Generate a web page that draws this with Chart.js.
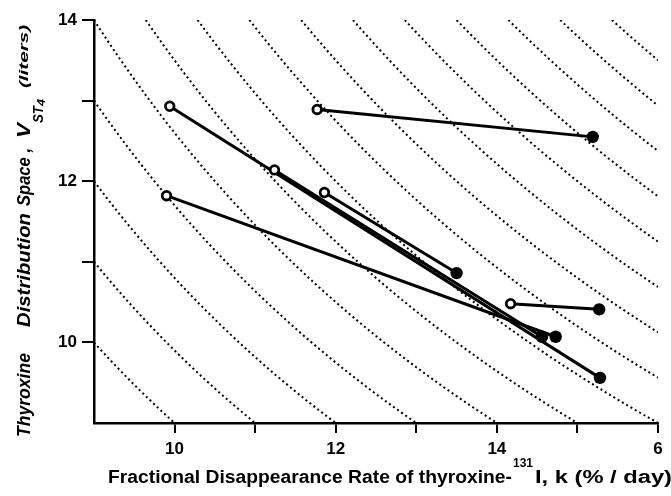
<!DOCTYPE html>
<html>
<head>
<meta charset="utf-8">
<script src="https://cdn.jsdelivr.net/npm/chart.js@4.4.1/dist/chart.umd.min.js"></script>
<style>
    body { margin: 0; background: #fff; }
    #wrap { width: 671px; height: 496px; position: relative; }
</style>
</head>
<body>
<div id="wrap"><canvas id="thyroxineChart"></canvas></div>
<script>
// Points ouverts (k, V) et points pleins correspondants, un couple par sujet
const openK   = [9.94, 11.24, 11.86, 9.90, 11.77, 14.17];
const openV   = [12.93, 12.14, 11.86, 11.82, 12.89, 10.48];
const closedK = [15.28, 14.56, 13.50, 14.73, 15.19, 15.27];
const closedV = [9.56, 10.07, 10.86, 10.07, 12.55, 10.41];

// Courbes pointillées : k * V = constante
const isoConstants = [90, 99, 108, 117, 126, 135, 144, 153, 162, 171, 180, 189, 198, 207, 216];

// Graduations
const xTickValues = [10, 11, 12, 13, 14, 15, 16];
const xTickLabels = ['10', '', '12', '', '14', '', '6'];
const yTickValues = [10, 11, 12, 13, 14];
const yTickLabels = ['10', '', '12', '', '14'];

const X_MIN = 9, X_MAX = 16, Y_MIN = 9, Y_MAX = 14;
const TICK_FONT = { family: 'Liberation Sans', size: 17, weight: 'bold' };

function isoCurve(c) {
    const from = Math.max(X_MIN, c / Y_MAX);
    const to = Math.min(X_MAX, c / Y_MIN);
    const pts = [];
    const n = 60;
    for (let i = 0; i <= n; i++) {
        const k = from + (to - from) * i / n;
        pts.push({ x: k, y: c / k });
    }
    return pts;
}

const datasets = [];

isoConstants.forEach(c => {
    datasets.push({
        data: isoCurve(c),
        borderColor: '#000',
        borderWidth: 2,
        borderDash: [2, 3],
        borderCapStyle: 'butt',
        pointRadius: 0,
        tension: 0,
        order: 3
    });
});

openK.forEach((k, i) => {
    datasets.push({
        data: [{ x: k, y: openV[i] }, { x: closedK[i], y: closedV[i] }],
        borderColor: '#000',
        borderWidth: 3,
        pointRadius: 0,
        order: 2
    });
});

datasets.push({
    data: openK.map((k, i) => ({ x: k, y: openV[i] })),
    showLine: false,
    pointRadius: 4.3,
    pointBorderWidth: 2.8,
    pointBorderColor: '#000',
    pointBackgroundColor: '#fff',
    order: 1
});

datasets.push({
    data: closedK.map((k, i) => ({ x: k, y: closedV[i] })),
    showLine: false,
    pointRadius: 6.2,
    pointBorderWidth: 0,
    pointBackgroundColor: '#000',
    order: 1
});

// Texte ajusté à une longueur donnée (horizontal ou tourné de 90°)
function fitText(ctx, txt, font, x, y, len, rotated) {
    ctx.save();
    ctx.font = font;
    ctx.fillStyle = '#000';
    ctx.textAlign = 'left';
    ctx.textBaseline = 'alphabetic';
    ctx.translate(x, y);
    if (rotated) ctx.rotate(-Math.PI / 2);
    const w = ctx.measureText(txt).width;
    ctx.scale(len / w, 1);
    ctx.fillText(txt, 0, 0);
    ctx.restore();
}

const titlesPlugin = {
    id: 'titles',
    afterDraw(chart) {
        const ctx = chart.ctx;
        const main = 'italic bold 18px "Liberation Sans"';
        // Titre de l'axe Y (lu de bas en haut)
        fitText(ctx, 'Thyroxine', main, 30, 437, 84, true);
        fitText(ctx, 'Distribution', main, 30, 327, 114, true);
        fitText(ctx, 'Space ,', main, 30, 206, 58, true);
        fitText(ctx, 'V', main, 30, 138, 15, true);
        fitText(ctx, 'ST', 'italic bold 14px "Liberation Sans"', 43, 123, 17, true);
        fitText(ctx, '4', 'italic bold 11px "Liberation Sans"', 45, 106, 7, true);
        fitText(ctx, '(liters)', 'italic bold 13px "Liberation Sans"', 28, 88, 63, true);

        // Titre de l'axe X
        const xf = 'bold 18px "Liberation Sans"';
        fitText(ctx, 'Fractional Disappearance Rate of thyroxine-', xf, 108, 483, 404, false);
        fitText(ctx, '131', 'bold 13px "Liberation Sans"', 513, 467, 20, false);
        fitText(ctx, 'I, k (% / day)', xf, 535, 483, 137, false);
    }
};

new Chart(document.getElementById('thyroxineChart'), {
    type: 'line',
    data: { datasets: datasets },
    plugins: [titlesPlugin],
    options: {
        responsive: true,
        maintainAspectRatio: false,
        animation: false,
        layout: { padding: { top: 20, right: 13, bottom: 0, left: 0 } },
        plugins: {
            legend: { display: false },
            tooltip: { enabled: false }
        },
        scales: {
            x: {
                type: 'linear',
                min: X_MIN,
                max: X_MAX,
                afterBuildTicks: scale => { scale.ticks = xTickValues.map(v => ({ value: v })); },
                afterFit: scale => { scale.height = 73; },
                ticks: {
                    autoSkip: false,
                    maxRotation: 0,
                    color: '#000',
                    padding: 6,
                    font: TICK_FONT,
                    callback: (value, index) => xTickLabels[index]
                },
                grid: {
                    drawOnChartArea: false,
                    drawTicks: true,
                    tickLength: 10,
                    color: '#000',
                    lineWidth: 2
                },
                border: { display: true, color: '#000', width: 2.5 }
            },
            y: {
                type: 'linear',
                min: Y_MIN,
                max: Y_MAX,
                afterBuildTicks: scale => { scale.ticks = yTickValues.map(v => ({ value: v })); },
                afterFit: scale => { scale.width = 94; },
                ticks: {
                    autoSkip: false,
                    color: '#000',
                    padding: 5,
                    font: TICK_FONT,
                    callback: (value, index) => yTickLabels[index]
                },
                grid: {
                    drawOnChartArea: false,
                    drawTicks: true,
                    tickLength: 12,
                    color: '#000',
                    lineWidth: 2
                },
                border: { display: true, color: '#000', width: 2.5 }
            }
        }
    }
});
</script>
</body>
</html>
